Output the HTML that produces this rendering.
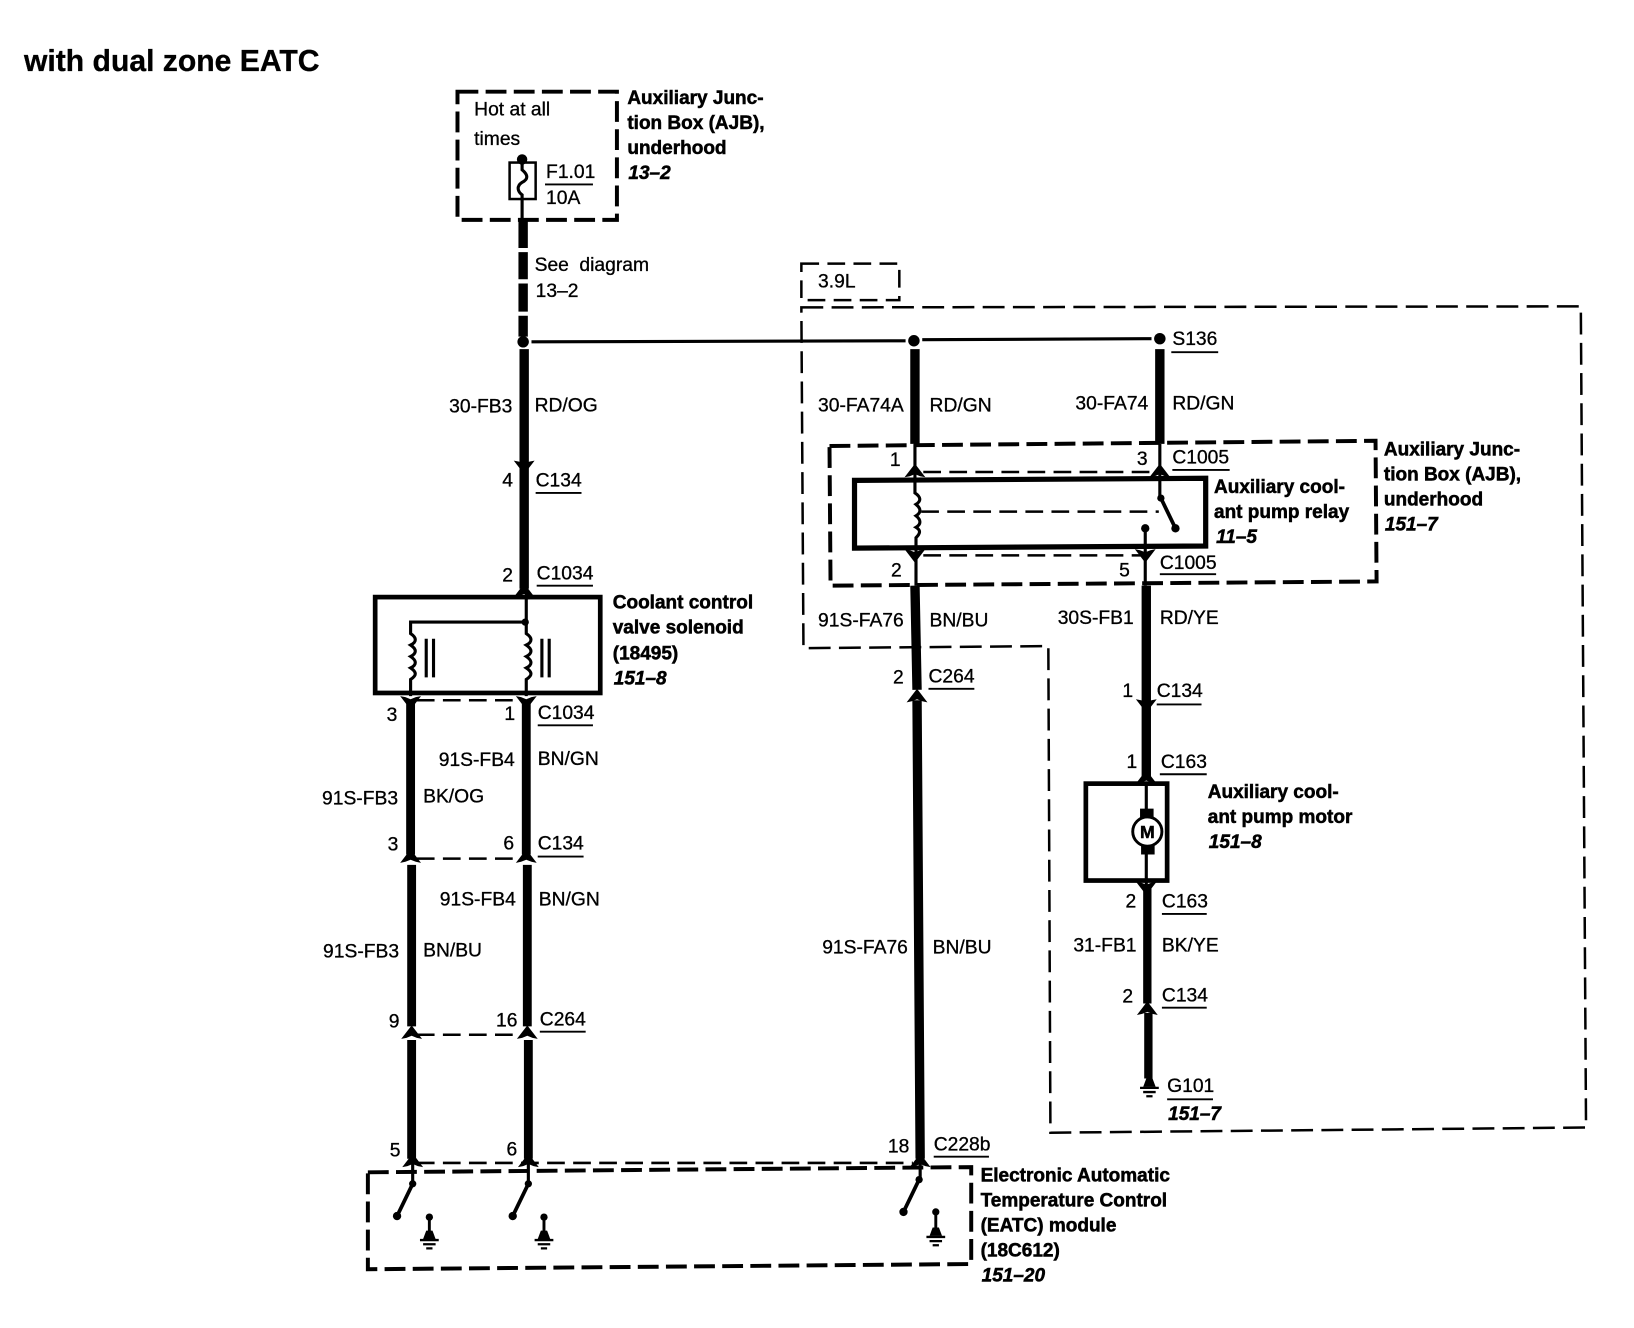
<!DOCTYPE html>
<html><head><meta charset="utf-8"><style>
html,body{margin:0;padding:0;background:#fff}
svg{display:block}
text{font-family:"Liberation Sans",sans-serif;font-size:18.5px;fill:#000;stroke:#000;stroke-width:.3}
.b{font-weight:bold;font-size:18.25px;stroke-width:.5}
.i{font-weight:bold;font-style:italic;font-size:18.25px;stroke-width:.5}
.t{font-weight:bold;font-size:28.9px}
.thick{stroke:#000;stroke-width:9;fill:none}
.thin{stroke:#000;stroke-width:3;fill:none}
.box{stroke:#000;stroke-width:4.5;fill:none}
.d1{stroke:#000;stroke-width:3.8;fill:none;stroke-dasharray:20 7}
.d2{stroke:#000;stroke-width:2.4;fill:none;stroke-dasharray:21 8}
.d3{stroke:#000;stroke-width:2.4;fill:none;stroke-dasharray:17 8}
.u{stroke:#000;stroke-width:1.8;fill:none}
</style></head><body>
<svg xmlns="http://www.w3.org/2000/svg" width="1634" height="1328" viewBox="0 0 1568 1274.4">
<defs>
<path id="up" d="M-10 6L0-7L10 6L5 5L0 3L-5 5Z" fill="#000"/>
<path id="dn" d="M-10-6L0 7L10-6L5-5L0-3L-5-5Z" fill="#000"/>
<g id="gnd"><path d="M-9 1H9M-6 5H6M-3 9H3" stroke="#000" stroke-width="2.2" fill="none"/><path d="M-6 0L-3-8H3L6 0Z" fill="#000"/></g>
</defs>
<rect width="1568" height="1274.4" fill="#fff"/>

<text class="t" x="23" y="68">with dual zone EATC</text>

<!-- Big dashed zones -->
<rect x="769" y="253" width="94" height="35" class="d3"/>
<text x="785" y="276">3.9L</text>
<path d="M769 295L1517 294L1522 1082L1008 1087L1006 620L771 622Z" class="d2"/>

<!-- Top AJB -->
<rect x="439" y="88" width="153" height="123" class="d1"/>
<text x="455" y="111">Hot at all</text>
<text x="455" y="139">times</text>
<rect x="489" y="156" width="25" height="35" fill="none" stroke="#000" stroke-width="2.4"/>
<circle cx="501" cy="153" r="5"/>
<path d="M501 153V163C507 168 507 172 501 175C495 179 497 184 501 187V212" class="thin"/>
<text x="524" y="171">F1.01</text><path d="M523 177H569" class="u"/><text x="524" y="196">10A</text>
<text class="b" x="602" y="100">Auxiliary Junc-</text>
<text class="b" x="602" y="124">tion Box (AJB),</text>
<text class="b" x="602" y="148">underhood</text>
<text class="i" x="603" y="172">13–2</text>

<path d="M502 212V238M502 242V268M502 272V299M502 303V323" class="thick"/>
<text x="513" y="260" word-spacing="5">See diagram</text>
<text x="514" y="285">13–2</text>
<circle cx="502" cy="328" r="5.5"/>
<path d="M510 328L869 327M885 326L1105 325" class="thin"/>
<circle cx="877" cy="327" r="5.5"/><circle cx="1113" cy="325" r="5.5"/>
<text x="1125" y="331">S136</text><path d="M1124 338H1169" class="u"/>

<!-- Left main -->
<path d="M503 335V565" class="thick"/>
<use href="#dn" x="503" y="448"/>
<use href="#up" x="503" y="567"/>
<text x="431" y="396">30-FB3</text><text x="513" y="395">RD/OG</text>
<text x="482" y="467">4</text><text x="514" y="467">C134</text><path d="M514 473H558" class="u"/>
<text x="482" y="558">2</text><text x="515" y="556">C1034</text><path d="M515 562H569" class="u"/>

<!-- Coolant box -->
<rect x="360" y="573" width="216" height="92" class="box"/>
<path d="M505 570V608C511 612 511 616 505 619C511 623 511 627 505 630C511 634 511 638 505 641C511 645 511 648 505 652V668" class="thin"/>
<path d="M504 597H394V608C400 612 400 616 394 619C400 623 400 627 394 630C400 634 400 638 394 641C400 645 400 648 394 652V668" class="thin"/>
<circle cx="504" cy="597" r="3.5"/>
<path d="M409 613V650M416 613V650M520 613V650M527 613V650" class="thin"/>
<text class="b" x="588" y="584">Coolant control</text>
<text class="b" x="588" y="608">valve solenoid</text>
<text class="b" x="588" y="633">(18495)</text>
<text class="i" x="589" y="657">151–8</text>

<!-- Left two wires -->
<path d="M394 672V820M505 672V820M395 830V985M506 830V985M395 998V1112M507 998V1112" class="thick" style="stroke-width:8.5"/>
<path d="M400 672H500M400 824H500M400 993H500" class="d3"/>
<use href="#dn" x="394" y="674"/><use href="#dn" x="505" y="674"/>
<use href="#up" x="394" y="822"/><use href="#up" x="505" y="822"/>
<use href="#up" x="395" y="991"/><use href="#up" x="506" y="991"/>
<use href="#up" x="396" y="1114"/><use href="#up" x="507" y="1114"/>
<text x="371" y="692">3</text><text x="484" y="691">1</text><text x="516" y="690">C1034</text><path d="M516 696H569" class="u"/>
<text x="421" y="735">91S-FB4</text><text x="516" y="734">BN/GN</text>
<text x="309" y="772">91S-FB3</text><text x="406" y="770">BK/OG</text>
<text x="372" y="816">3</text><text x="483" y="815">6</text><text x="516" y="815">C134</text><path d="M516 822H560" class="u"/>
<text x="422" y="869">91S-FB4</text><text x="517" y="869">BN/GN</text>
<text x="310" y="919">91S-FB3</text><text x="406" y="918">BN/BU</text>
<text x="373" y="986">9</text><text x="476" y="985">16</text><text x="518" y="984">C264</text><path d="M518 990H562" class="u"/>
<text x="374" y="1110">5</text><text x="486" y="1109">6</text>

<!-- Relay AJB -->
<path d="M878 335V426M1113 335V426" class="thick"/>
<text x="785" y="395">30-FA74A</text><text x="892" y="395">RD/GN</text>
<text x="1032" y="393">30-FA74</text><text x="1125" y="393">RD/GN</text>
<path d="M796 428L1320 423L1321 558L797 562Z" class="d1"/>
<text class="b" x="1328" y="437">Auxiliary Junc-</text>
<text class="b" x="1328" y="461">tion Box (AJB),</text>
<text class="b" x="1328" y="485">underhood</text>
<text class="i" x="1329" y="509">151–7</text>
<text x="854" y="447">1</text><text x="1091" y="446">3</text><text x="1125" y="445">C1005</text><path d="M1125 451H1180" class="u"/>
<path d="M820 461L1157 459V524L820 526Z" class="box" style="stroke-width:5"/>
<path d="M886 453H1105M886 533H1095" class="d3"/>
<path d="M878 426V473C884 477 884 481 879 484C884 488 884 492 879 495C884 499 884 503 879 506C884 509 883 512 879 516V562" class="thin"/>
<path d="M884 491H1112" class="d3"/>
<path d="M1113 426V478" class="thin"/>
<circle cx="1114" cy="478" r="3.5"/>
<path d="M1114 478L1128 507" stroke="#000" stroke-width="3.6"/>
<circle cx="1128" cy="507" r="4"/>
<circle cx="1099" cy="507" r="4"/>
<path d="M1099 507V562" class="thin"/>
<use href="#up" x="878" y="452"/><use href="#up" x="1113" y="452"/>
<use href="#dn" x="878" y="533"/><use href="#dn" x="1099" y="533"/>
<text class="b" x="1165" y="473">Auxiliary cool-</text>
<text class="b" x="1165" y="497">ant pump relay</text>
<text class="i" x="1167" y="521">11–5</text>
<text x="855" y="553">2</text><text x="1074" y="553">5</text><text x="1113" y="546">C1005</text><path d="M1113 551H1167" class="u"/>

<!-- Center wire -->
<path d="M878 562L880 662M880 672L883 1112" class="thick"/>
<use href="#up" x="880" y="668"/><use href="#up" x="883" y="1114"/>
<text x="785" y="601">91S-FA76</text><text x="892" y="601">BN/BU</text>
<text x="857" y="656">2</text><text x="891" y="655">C264</text><path d="M891 661H935" class="u"/>
<text x="789" y="915">91S-FA76</text><text x="895" y="915">BN/BU</text>
<text x="852" y="1106">18</text><text x="896" y="1104">C228b</text><path d="M896 1110H949" class="u"/>

<!-- Right wire -->
<path d="M1100 562V745" class="thick"/>
<use href="#dn" x="1100" y="677"/><use href="#up" x="1100" y="746"/>
<text x="1015" y="599">30S-FB1</text><text x="1113" y="599">RD/YE</text>
<text x="1077" y="669">1</text><text x="1110" y="669">C134</text><path d="M1110 676H1153" class="u"/>
<text x="1081" y="737">1</text><text x="1114" y="737">C163</text><path d="M1113 743H1158" class="u"/>
<rect x="1042" y="752" width="78" height="93" class="box"/>
<path d="M1100 750V850" class="thin"/>
<rect x="1094" y="776" width="13" height="10"/><rect x="1095" y="810" width="13" height="10"/>
<circle cx="1101" cy="798" r="14" fill="#fff" stroke="#000" stroke-width="2.8"/>
<text x="1101" y="804" text-anchor="middle" class="b" style="font-size:17px">M</text>
<text class="b" x="1159" y="766">Auxiliary cool-</text>
<text class="b" x="1159" y="790">ant pump motor</text>
<text class="i" x="1160" y="814">151–8</text>
<path d="M1101 850V963M1102 972V1035" class="thick" style="stroke-width:8"/>
<use href="#dn" x="1100" y="852"/><use href="#up" x="1101" y="968"/>
<text x="1080" y="871">2</text><text x="1115" y="871">C163</text><path d="M1115 877H1158" class="u"/>
<text x="1030" y="913">31-FB1</text><text x="1115" y="913">BK/YE</text>
<text x="1077" y="962">2</text><text x="1115" y="961">C134</text><path d="M1115 967H1158" class="u"/>
<use href="#gnd" x="1103" y="1043"/>
<text x="1120" y="1048">G101</text><path d="M1120 1055H1164" class="u"/>
<text class="i" x="1121" y="1075">151–7</text>

<!-- EATC -->
<path d="M400 1116H876" class="d3"/>
<path d="M353 1125L932 1120L932 1213L353 1218Z" class="d1"/>
<text class="b" x="941" y="1134">Electronic Automatic</text>
<text class="b" x="941" y="1158">Temperature Control</text>
<text class="b" x="941" y="1182">(EATC) module</text>
<text class="b" x="941" y="1206">(18C612)</text>
<text class="i" x="942" y="1230">151–20</text>
<path d="M396 1116V1136M507 1116V1136M883 1116V1132" class="thin"/>
<g stroke="#000" stroke-width="3.6">
<path d="M396 1136L381 1167M507 1136L492 1167M882 1132L867 1163"/>
<path d="M412 1168V1188M522 1168V1188M898 1163V1185" stroke-width="2.8"/>
</g>
<circle cx="396" cy="1136" r="3.5"/><circle cx="381" cy="1167" r="4"/><circle cx="412" cy="1168" r="3.5"/>
<circle cx="507" cy="1136" r="3.5"/><circle cx="492" cy="1167" r="4"/><circle cx="522" cy="1168" r="3.5"/>
<circle cx="882" cy="1132" r="3.5"/><circle cx="867" cy="1163" r="4"/><circle cx="898" cy="1163" r="3.5"/>
<use href="#gnd" x="412" y="1189"/><use href="#gnd" x="522" y="1189"/><use href="#gnd" x="898" y="1186"/>
</svg>
</body></html>
